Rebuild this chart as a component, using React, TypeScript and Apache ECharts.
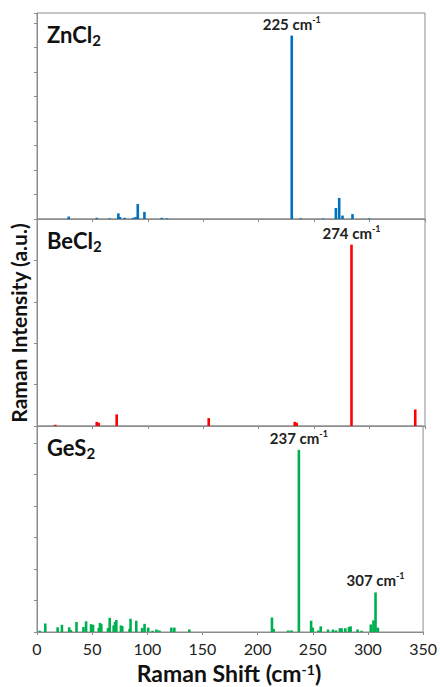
import React, { useEffect, useRef } from "react";
import * as echarts from "echarts";

const xTicks = [0, 50, 100, 150, 200, 250, 300, 350];

const znX = [28.6, 53.9, 65.6, 73.4, 74.8, 79.1, 86.6, 89, 90.9, 96.9, 112.5, 117.3, 229.8, 238, 258, 269.6, 272.6, 275.6, 284.6, 299.6];
const znY = [0.1, 0.05, 0.03, 0.23, 0.08, 0.05, 0.05, 0.08, 0.61, 0.29, 0.05, 0.03, 7.48, 0.03, 0.02, 0.45, 0.86, 0.14, 0.2, 0.03];

const beX = [16.5, 53.9, 55.6, 71.9, 154.9, 232.5, 234.2, 283.7, 341.2];
const beY = [0.03, 0.1, 0.08, 0.28, 0.19, 0.1, 0.08, 4.38, 0.4];

const geX = [2.4, 7.5, 18.7, 22.6, 29.2, 30.7, 35.8, 42.1, 44.5, 49, 50.8, 56, 57.1, 58.3, 64.4, 65.9, 69.5, 70.7, 71.9, 76.1, 77.3, 83.9, 84.8, 90, 95.3, 97.5, 100.8, 104.7, 108.3, 111, 121.8, 124.5, 138.1, 213, 214.5, 227.7, 230.7, 237.4, 248.5, 250, 255.1, 257.2, 263.8, 268.3, 271, 274.6, 276.1, 279.5, 282.8, 284.3, 290.6, 294.2, 302.6, 305, 306.9, 309];
const geY = [0.04, 0.27, 0.15, 0.23, 0.15, 0.06, 0.32, 0.16, 0.34, 0.25, 0.23, 0.13, 0.29, 0.25, 0.13, 0.45, 0.21, 0.32, 0.38, 0.21, 0.19, 0.1, 0.42, 0.36, 0.13, 0.26, 0.14, 0.04, 0.08, 0.05, 0.14, 0.14, 0.08, 0.46, 0.1, 0.05, 0.05, 5.79, 0.36, 0.14, 0.05, 0.18, 0.08, 0.08, 0.05, 0.12, 0.12, 0.12, 0.16, 0.18, 0.08, 0.04, 0.24, 0.37, 1.26, 0.14];

const panelNames = ["ZnCl", "BeCl", "GeS"];
const panelSubs = ["2", "2", "2"];
const panelColors = ["#0070C0", "#FF0000", "#00B050"];
const panelMax = [8.4, 5, 6.55];
const peakXs = [[229.8], [283.7], [237.4, 306.9]];
const peakTexts = [["225"], ["274"], ["237", "307"]];

const FONT = "Lato, 'Open Sans', sans-serif";

export default function App() {
  const ref = useRef<HTMLDivElement>(null);
  useEffect(() => {
    if (!ref.current) return;
    const chart = echarts.init(ref.current, null, { renderer: "svg" });
    const xs = [znX, beX, geX];
    const ys = [znY, beY, geY];
    const tops = [13, 219, 426];
    const heights = [206, 207, 206];
    const axisGray = "#8c8c8c";

    const grids = tops.map((t, i) => ({
      left: 37,
      right: 15,
      top: t,
      height: heights[i],
      show: true,
      borderColor: axisGray,
      borderWidth: 1,
    }));

    const xAxes = tops.map((_, i) => ({
      type: "value",
      gridIndex: i,
      min: xTicks[0],
      max: xTicks[xTicks.length - 1],
      interval: 50,
      axisLine: { show: true, lineStyle: { color: axisGray } },
      axisTick: { show: true, length: 3, lineStyle: { color: axisGray } },
      splitLine: { show: false },
      axisLabel: {
        show: i === 2,
        color: "#222",
        fontSize: 16,
        fontFamily: FONT,
        margin: 8,
      },
    }));

    const yAxes = tops.map((_, i) => ({
      type: "value",
      gridIndex: i,
      min: 0,
      max: panelMax[i],
      interval: 1,
      axisLine: { show: true, lineStyle: { color: axisGray } },
      axisTick: { show: true, length: 3, lineStyle: { color: axisGray } },
      splitLine: { show: false },
      axisLabel: { show: false },
    }));

    const series = xs.map((xarr, i) => ({
      type: "bar",
      xAxisIndex: i,
      yAxisIndex: i,
      barWidth: 2.6,
      itemStyle: { color: panelColors[i] },
      data: xarr.map((x, j) => {
        const k = peakXs[i].indexOf(x);
        const item: any = { value: [x, ys[i][j]] };
        if (k >= 0) {
          item.label = {
            show: true,
            position: "top",
            distance: 3,
            formatter: "{a|" + peakTexts[i][k] + " cm}{s|-1}",
            rich: {
              a: { fontSize: 15, fontWeight: "bold", color: "#222", fontFamily: FONT },
              s: { fontSize: 9, fontWeight: "bold", color: "#222", fontFamily: FONT, padding: [0, 0, 9, 0] },
            },
          };
        }
        return item;
      }),
    }));

    const labelTops = [23, 229, 436];
    const graphic: any[] = panelNames.map((n, i) => ({
      type: "text",
      left: 47,
      top: labelTops[i],
      style: {
        text: "{b|" + n + "}{u|" + panelSubs[i] + "}",
        rich: {
          b: { fontSize: 22, fontWeight: "bold", fill: "#111", fontFamily: FONT },
          u: { fontSize: 15, fontWeight: "bold", fill: "#111", fontFamily: FONT, padding: [11, 0, 0, 0] },
        },
      },
    }));
    graphic.push({
      type: "text",
      x: 18,
      y: 323,
      rotation: Math.PI / 2,
      style: {
        text: "Raman Intensity (a.u.)",
        fontSize: 21,
        fontWeight: "bold",
        fill: "#111",
        fontFamily: FONT,
        textAlign: "center",
        textVerticalAlign: "middle",
      },
    });
    graphic.push({
      type: "text",
      x: 229,
      y: 673,
      style: {
        text: "{a|Raman Shift (cm}{s|-1}{a|)}",
        textAlign: "center",
        textVerticalAlign: "middle",
        rich: {
          a: { fontSize: 23, fontWeight: "bold", fill: "#111", fontFamily: FONT },
          s: { fontSize: 14, fontWeight: "bold", fill: "#111", fontFamily: FONT, padding: [0, 0, 8, 0] },
        },
      },
    });

    chart.setOption({
      animation: false,
      grid: grids,
      xAxis: xAxes,
      yAxis: yAxes,
      series,
      graphic,
    });
    return () => chart.dispose();
  }, []);
  return <div ref={ref} style={{ width: 440, height: 687, position: "absolute", left: 0, top: 0 }} />;
}
